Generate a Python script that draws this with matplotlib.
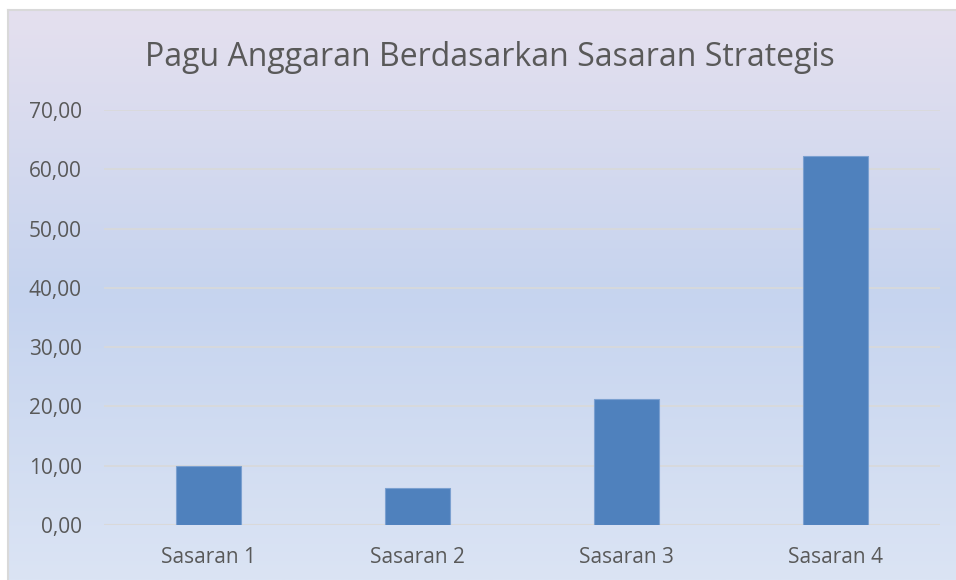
import numpy as np
import matplotlib.pyplot as plt
from matplotlib.ticker import MultipleLocator, FuncFormatter
from matplotlib.colors import LinearSegmentedColormap

categories = ["Sasaran 1", "Sasaran 2", "Sasaran 3", "Sasaran 4"]
values = [9.9, 6.3, 21.2, 62.3]
title = "Pagu Anggaran Berdasarkan Sasaran Strategis"

plt.rcParams['font.family'] = ['Open Sans', 'DejaVu Sans']
text_color = "#595959"

fig = plt.figure(figsize=(9.56, 5.8), dpi=100)
W, H = 956, 580

# chart area background (gradient) with border, clipped by image edge
bg = fig.add_axes([8 / W, 0, 1 - 8 / W, 1 - 10 / H])
bg.set_zorder(-10)
cmap = LinearSegmentedColormap.from_list(
    "bg", [(0.0, "#e5e0ee"), (0.5, "#c6d4ef"), (1.0, "#dbe4f4")])
grad = np.linspace(0, 1, 256).reshape(-1, 1)
bg.imshow(grad, aspect="auto", cmap=cmap, extent=[0, 1, 0, 1], origin="upper")
bg.set_xlim(0, 1)
bg.set_ylim(0, 1)
bg.set_xticks([])
bg.set_yticks([])
for side in ["right", "bottom"]:
    bg.spines[side].set_visible(False)
for side in ["left", "top"]:
    bg.spines[side].set_color("#d9d9d9")
    bg.spines[side].set_linewidth(1.5)

ax = fig.add_axes([104 / W, 1 - 525 / H, (940 - 104) / W, (525 - 110) / H])
ax.patch.set_alpha(0)
x = np.arange(len(categories))
ax.bar(x, values, width=0.31, color="#4f81bd", edgecolor="#7ba0d0",
       linewidth=0.8, zorder=3)

ax.set_xlim(-0.5, len(categories) - 0.5)
ax.set_ylim(0, 70)
ax.yaxis.set_major_locator(MultipleLocator(10))
ax.yaxis.set_major_formatter(FuncFormatter(lambda v, p: f"{v:.2f}".replace(".", ",")))
ax.grid(axis="y", color="#d9d9d9", linewidth=1.2, zorder=0)
ax.set_xticks(x, categories)
ax.tick_params(axis="both", length=0, labelsize=15, colors=text_color)
ax.tick_params(axis="y", pad=16)
ax.tick_params(axis="x", pad=16)
for s in ax.spines.values():
    s.set_visible(False)
ax.axhline(0, color="#d9d9d9", linewidth=1.5, zorder=2)

fig.text(490 / W, 1 - 57 / H, title, ha="center", va="center",
         fontsize=23, color=text_color)

fig.savefig("out.png", dpi=100, facecolor="white")
